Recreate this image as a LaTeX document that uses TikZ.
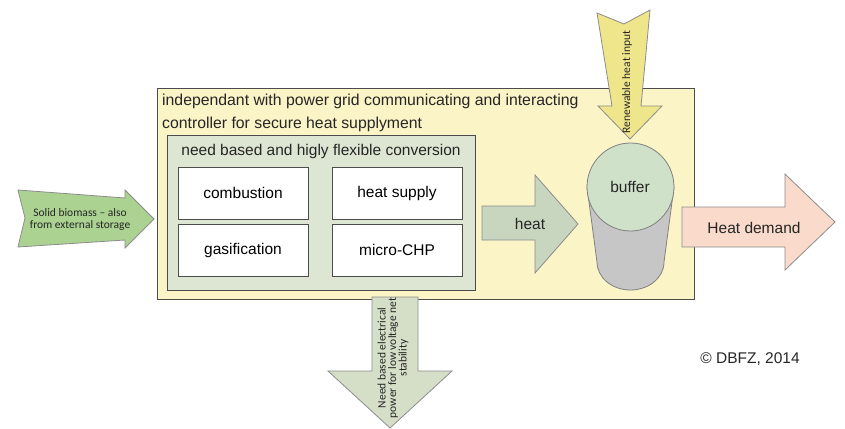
\documentclass[tikz,border=0pt]{standalone}
\usepackage{fontspec}
\setmainfont{Liberation Sans}
\newfontfamily\arrowfont[Ligatures=TeX]{Carlito}
\usepackage{tikz}
\usetikzlibrary{positioning}

\definecolor{ctrlFill}{HTML}{FAF4C6}
\definecolor{convFill}{HTML}{DCE6D3}
\definecolor{heatFill}{HTML}{C8D6BF}
\definecolor{bioFill}{HTML}{ABD291}
\definecolor{renewFill}{HTML}{EFE58A}
\definecolor{powerFill}{HTML}{D5DFC8}
\definecolor{demandFill}{HTML}{F9DACB}
\definecolor{tankTop}{HTML}{D0E1C9}
\definecolor{tankBody}{HTML}{C6C6C6}

\begin{document}
\begin{tikzpicture}[
  x=1pt, y=-1pt,
  font=\fontsize{15.5}{18}\selectfont,
  frame/.style={draw=black!70, line width=1pt, inner sep=0pt, outer sep=0pt},
  ctrlBox/.style={frame, fill=ctrlFill, anchor=north west},
  convBox/.style={frame, fill=convFill, anchor=north west},
  stepBox/.style={frame, fill=white, minimum width=130pt, minimum height=52pt},
  blockArrow/.style={draw=black!45, line width=0.8pt, line join=miter},
  arrowText/.style={font=\arrowfont\fontsize{11.5}{12}\selectfont, align=center, inner sep=0pt, text=black!85},
  plainText/.style={inner sep=0pt, text=black!85}
]
\useasboundingbox (0,0) rectangle (845,428);

\node[ctrlBox, minimum width=537pt, minimum height=211pt] (ctrl) at (157,88) {};
\node[plainText, anchor=north west, align=left, font=\fontsize{15.8}{23}\selectfont] (ctrlTitle) at (162,94)
  {independant with power grid communicating and interacting\\controller for secure heat supplyment};

\node[convBox, minimum width=308pt, minimum height=155pt] (conv) at (167,135) {};
\node[plainText] (convTitle) at (321,151) {need based and higly flexible conversion};

\node[stepBox] (comb) at (243,193) {combustion};
\node[stepBox, right=24pt of comb] (supply) {heat supply};
\node[stepBox, below=5pt of comb] (gasif) {gasification};
\node[stepBox, right=24pt of gasif] (chp) {micro-CHP};

\path[blockArrow, fill=bioFill]
  (18,190) -- (125,198) -- (125,190) -- (154,219) -- (125,248) -- (125,240) -- (18,247) -- (25,218) -- cycle;
\node[arrowText] (bio) at (80,219) {Solid biomass -- also\\from external storage};

\path[blockArrow, fill=heatFill]
  (482,206) -- (535,206) -- (535,175) -- (578,224) -- (535,273) -- (535,240) -- (482,240) -- cycle;
\node[plainText] (heat) at (530,224) {heat};

\path[draw=black!50, line width=0.8pt, fill=tankBody]
  (587,187) -- (597,262) arc[start angle=180, end angle=0, x radius=33.5, y radius=28] -- (674,187) -- cycle;
\path[draw=black!50, line width=0.8pt, fill=tankTop] (630.5,187) ellipse[x radius=43.5, y radius=44];
\node[plainText] (buffer) at (630,187) {buffer};

\path[blockArrow, fill=renewFill]
  (597,13) -- (624,24) -- (650,10) -- (641,106) -- (662,106) -- (630,139) -- (598,106) -- (612,106) -- cycle;
\node[arrowText, rotate=90] (renew) at (627,82) {Renewable heat input};

\path[blockArrow, fill=powerFill]
  (372,297) -- (418,297) -- (418,371) -- (452,371) -- (390,428) -- (328,371) -- (372,371) -- cycle;
\node[arrowText, rotate=90, font=\arrowfont\fontsize{11.5}{10.5}\selectfont] (power) at (393,358)
  {Need based electrical\\power for low voltage net\\stability};

\path[blockArrow, fill=demandFill]
  (682,207) -- (785,207) -- (785,174) -- (835,222) -- (785,270) -- (785,247) -- (682,247) -- cycle;
\node[plainText] (demand) at (754,228) {Heat demand};

\node[plainText] (credit) at (750,359) {\textcopyright{} DBFZ, 2014};
\end{tikzpicture}
\end{document}
